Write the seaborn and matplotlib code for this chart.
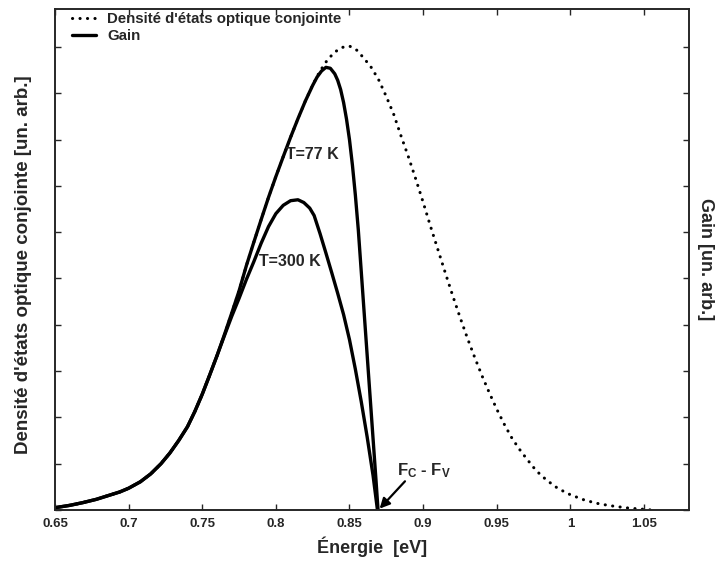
import matplotlib
matplotlib.use("Agg")
import matplotlib.pyplot as plt
import seaborn as sns
import pandas as pd

# ---- data -------------------------------------------------------------
energy_dos = [0.650, 0.660, 0.669, 0.678, 0.687, 0.694, 0.700, 0.708, 0.715, 0.722,
              0.728, 0.734, 0.740, 0.745, 0.750, 0.755, 0.760, 0.765, 0.770, 0.775,
              0.780, 0.785, 0.790, 0.795, 0.800, 0.805, 0.810, 0.815, 0.820, 0.825,
              0.830, 0.835, 0.840, 0.845, 0.850, 0.855, 0.860, 0.865, 0.870, 0.875,
              0.880, 0.885, 0.890, 0.895, 0.900, 0.905, 0.910, 0.915, 0.920, 0.925,
              0.930, 0.935, 0.940, 0.945, 0.950, 0.955, 0.960, 0.965, 0.970, 0.975,
              0.980, 0.985, 0.990, 0.995, 1.000, 1.010, 1.020, 1.030, 1.040, 1.050,
              1.055]
dos = [0.05, 0.10, 0.16, 0.23, 0.32, 0.39, 0.47, 0.61, 0.78, 1.00,
       1.23, 1.50, 1.80, 2.13, 2.50, 2.91, 3.33, 3.78, 4.25, 4.73,
       5.28, 5.78, 6.27, 6.75, 7.20, 7.63, 8.05, 8.45, 8.83, 9.18,
       9.48, 9.72, 9.89, 9.99, 10.02, 9.93, 9.75, 9.55, 9.28, 8.93,
       8.55, 8.08, 7.63, 7.15, 6.65, 6.13, 5.63, 5.13, 4.64, 4.17,
       3.72, 3.30, 2.90, 2.53, 2.18, 1.86, 1.57, 1.33, 1.12, 0.92,
       0.75, 0.62, 0.50, 0.41, 0.33, 0.21, 0.13, 0.08, 0.04, 0.015,
       0.0]

energy_77 = [0.650, 0.660, 0.669, 0.678, 0.687, 0.694, 0.700, 0.708, 0.715, 0.722,
             0.728, 0.734, 0.740, 0.745, 0.750, 0.755, 0.760, 0.765, 0.770, 0.775,
             0.780, 0.785, 0.790, 0.795, 0.800, 0.805, 0.810, 0.815, 0.820, 0.825,
             0.828, 0.831, 0.834, 0.837, 0.840, 0.842, 0.844, 0.846, 0.848, 0.850,
             0.852, 0.854, 0.856, 0.858, 0.860, 0.862, 0.864, 0.866, 0.868, 0.8694]
gain_77 = [0.05, 0.10, 0.16, 0.23, 0.32, 0.39, 0.47, 0.61, 0.78, 1.00,
           1.23, 1.50, 1.80, 2.13, 2.50, 2.91, 3.33, 3.78, 4.25, 4.73,
           5.28, 5.78, 6.27, 6.75, 7.20, 7.63, 8.05, 8.45, 8.83, 9.17,
           9.35, 9.48, 9.56, 9.54, 9.42, 9.28, 9.08, 8.80, 8.44, 8.00,
           7.45, 6.80, 6.05, 5.15, 4.25, 3.35, 2.45, 1.55, 0.65, 0.00]

energy_300 = [0.650, 0.660, 0.669, 0.678, 0.687, 0.694, 0.700, 0.708, 0.715, 0.722,
              0.728, 0.734, 0.740, 0.745, 0.750, 0.755, 0.760, 0.765, 0.770, 0.775,
              0.780, 0.785, 0.790, 0.795, 0.800, 0.805, 0.810, 0.815, 0.819, 0.823,
              0.826, 0.830, 0.834, 0.838, 0.842, 0.846, 0.850, 0.854, 0.858, 0.862,
              0.866, 0.869]
gain_300 = [0.05, 0.10, 0.16, 0.23, 0.32, 0.39, 0.47, 0.61, 0.78, 1.00,
            1.23, 1.50, 1.80, 2.13, 2.50, 2.91, 3.33, 3.76, 4.18, 4.57,
            4.98, 5.36, 5.76, 6.12, 6.40, 6.58, 6.68, 6.70, 6.64, 6.52,
            6.36, 5.97, 5.55, 5.12, 4.68, 4.22, 3.68, 3.04, 2.34, 1.58,
            0.75, 0.00]

x_ticks = [0.65, 0.7, 0.75, 0.8, 0.85, 0.9, 0.95, 1, 1.05]
x_tick_labels = ["0.65", "0.7", "0.75", "0.8", "0.85", "0.9", "0.95", "1", "1.05"]
y_ticks = list(range(0, 11))

label_dos = "Densité d'états optique conjointe"
label_gain = "Gain"

# ---- style -------------------------------------------------------------
sns.set_style("ticks")
plt.rcParams["font.family"] = ["Liberation Sans", "DejaVu Sans"]
plt.rcParams["mathtext.fontset"] = "custom"
plt.rcParams["mathtext.rm"] = "Liberation Sans"
plt.rcParams["mathtext.bf"] = "Liberation Sans:bold"
plt.rcParams["axes.linewidth"] = 1.2

df_dos = pd.DataFrame({"E": energy_dos, "v": dos})
df_77 = pd.DataFrame({"E": energy_77, "v": gain_77})
df_300 = pd.DataFrame({"E": energy_300, "v": gain_300})

fig = plt.figure(figsize=(7.19, 5.64), dpi=100)
ax = fig.add_axes([55 / 719, 1 - 510 / 564, 634 / 719, 501 / 564])

sns.lineplot(data=df_dos, x="E", y="v", ax=ax, color="black", lw=2.2,
             linestyle=(0, (0.05, 2.4)), sort=False, estimator=None,
             label=label_dos, dash_capstyle="round", zorder=1)
sns.lineplot(data=df_77, x="E", y="v", ax=ax, color="black", lw=2.4,
             sort=False, estimator=None, label=label_gain, zorder=2)
sns.lineplot(data=df_300, x="E", y="v", ax=ax, color="black", lw=2.4,
             sort=False, estimator=None, zorder=2)

ax.set_xlim(0.65, 1.0806)
ax.set_ylim(0, 10.82)
ax.set_xticks(x_ticks)
ax.set_xticklabels(x_tick_labels, fontsize=9.5, fontweight="bold")
ax.set_yticks(y_ticks)
ax.set_yticklabels([])
ax.tick_params(direction="in", length=4, width=1, top=True, right=True,
               pad=6)

ax.set_xlabel("Énergie  [eV]", fontsize=13, fontweight="bold")
ax.xaxis.set_label_coords(0.5, -0.052)
ax.set_ylabel("Densité d'états optique conjointe [un. arb.]", fontsize=13.5,
              fontweight="bold")
ax.yaxis.set_label_coords(-0.037, 0.49)

ax2 = ax.twinx()
ax2.set_position(ax.get_position())
ax2.set_ylim(0, 10.82)
ax2.set_yticks(y_ticks)
ax2.set_yticklabels([])
ax2.tick_params(direction="in", length=4, width=1)
ax2.set_ylabel("Gain [un. arb.]", fontsize=13, fontweight="bold",
               rotation=270, va="center")
ax2.yaxis.set_label_coords(1.026, 0.5)

leg = ax.legend(loc="upper left", bbox_to_anchor=(0.017, 1.006), frameon=False,
                fontsize=10.8, handlelength=1.6, handletextpad=0.75,
                labelspacing=0.2, borderaxespad=0.0)
for t in leg.get_texts():
    t.set_fontweight("bold")

ax.text(0.8245, 7.68, "T=77 K", fontsize=11.5, fontweight="bold",
        ha="center", va="center")
ax.text(0.8096, 5.36, "T=300 K", fontsize=11.5, fontweight="bold",
        ha="center", va="center")

ax.text(0.8823, 0.86, r"$\mathbf{F_C}$ - $\mathbf{F_V}$", fontsize=12,
        fontweight="bold", ha="left", va="center")
ax.annotate("", xy=(0.8705, 0.03), xytext=(0.8877, 0.62),
            arrowprops=dict(arrowstyle="-|>", lw=1.6, color="black",
                            shrinkA=0, shrinkB=0, mutation_scale=15))

fig.savefig("out.png", dpi=100)
